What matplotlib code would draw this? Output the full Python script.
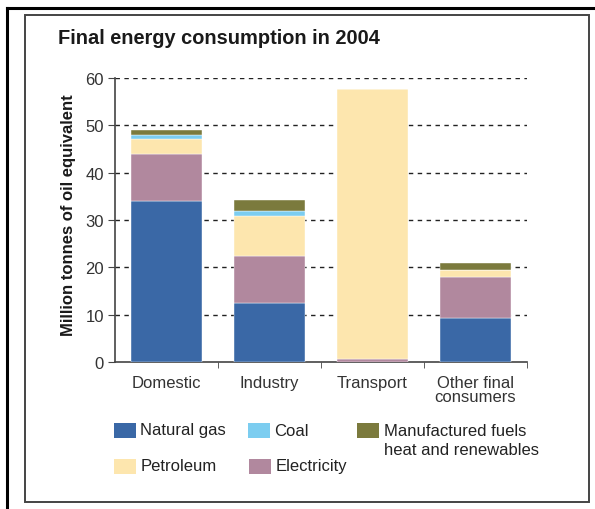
import matplotlib
matplotlib.use("Agg")
import matplotlib.pyplot as plt
from matplotlib.patches import Rectangle
from matplotlib.lines import Line2D
import numpy as np

plt.rcParams['font.family'] = ['Liberation Sans', 'DejaVu Sans']

# Final energy consumption, 2004 (million tonnes of oil equivalent)
categories = ["Domestic", "Industry", "Transport", "Other final\nconsumers"]
natural_gas = [34.0, 12.4, 0.0, 9.3]
electricity = [9.9, 10.0, 0.7, 8.6]
petroleum = [3.2, 8.5, 56.9, 1.5]
coal = [0.9, 0.9, 0.0, 0.0]
manufactured = [1.0, 2.4, 0.0, 1.5]

# stacking order, bottom to top
series = [
    ("Natural gas", natural_gas, "#3a68a6"),
    ("Electricity", electricity, "#b1889e"),
    ("Petroleum", petroleum, "#fde6ae"),
    ("Coal", coal, "#7ccdf0"),
    ("Manufactured fuels\nheat and renewables", manufactured, "#7b7a3d"),
]
colors = {name: c for name, _, c in series}

yticks = [0, 10, 20, 30, 40, 50, 60]

W, H = 595, 510
fig = plt.figure(figsize=(W / 100, H / 100), dpi=100)
fig.patch.set_facecolor("white")

# page frames
fig.add_artist(Line2D([7 / W, 7 / W], [0, 1 - 9 / H], color="black", lw=2.2))
fig.add_artist(Line2D([7 / W, 1], [1 - 9 / H, 1 - 9 / H], color="black", lw=2.2))
fig.add_artist(Rectangle((25 / W, 1 - 503 / H), (589 - 25) / W, (503 - 16) / H,
                         transform=fig.transFigure, fill=False,
                         edgecolor="#444444", lw=1.4))

ax = fig.add_axes([115 / W, 1 - 363.3 / H, (527 - 115) / W, (363.3 - 78.7) / H])
ax.set_facecolor("none")

x = np.arange(len(categories))
bottom = np.zeros(len(categories))
for name, vals, col in series:
    vals = np.array(vals)
    ax.bar(x, vals, width=0.68, bottom=bottom, color=col,
           edgecolor="white", linewidth=0.3, zorder=3)
    bottom += vals

ax.set_xlim(-0.5, 3.5)
ax.set_ylim(0, 60)
ax.set_yticks(yticks)
ax.set_yticklabels([str(v) for v in yticks], fontsize=12, color="#333333")
for v in yticks[1:]:
    ax.axhline(v, color="#222222", lw=1.0, ls=(0, (3.2, 3.2)), zorder=1)

ax.set_xticks(x)
ax.set_xticklabels(categories, fontsize=12, color="#333333", linespacing=0.92,
                   va="top")
ax.tick_params(axis="x", which="major", length=0, pad=9)
ax.set_xticks([0.5, 1.5, 2.5, 3.5], minor=True)
ax.tick_params(axis="x", which="minor", length=4, direction="out", color="#444444")
ax.tick_params(axis="y", length=5, direction="out", color="#444444", pad=3)

for s in ["top", "right"]:
    ax.spines[s].set_visible(False)
for s in ["left", "bottom"]:
    ax.spines[s].set_color("#444444")
    ax.spines[s].set_linewidth(1.2)

fig.text(58 / W, 1 - 38 / H, "Final energy consumption in 2004", fontsize=14.4,
         fontweight="bold", color="#1a1a1a", va="center", ha="left")
fig.text(68 / W, 1 - 215 / H, "Million tonnes of oil equivalent", fontsize=12,
         fontweight="bold", color="#1a1a1a", rotation=90, va="center", ha="center")

# legend
legend_items = [
    ("Natural gas", 114, 431.5),
    ("Coal", 248, 431.5),
    ("Manufactured fuels\nheat and renewables", 357, 431.5),
    ("Petroleum", 114, 467),
    ("Electricity", 249, 467),
]
for name, lx, ly in legend_items:
    fig.add_artist(Rectangle((lx / W, 1 - (ly + 7.5) / H), 22 / W, 15 / H,
                             transform=fig.transFigure, color=colors[name], lw=0))
    fig.text((lx + 26.5) / W, 1 - (ly - 8) / H, name, fontsize=12,
             color="#222222", va="top", ha="left", linespacing=1.38)

fig.savefig("out.png", dpi=100)
